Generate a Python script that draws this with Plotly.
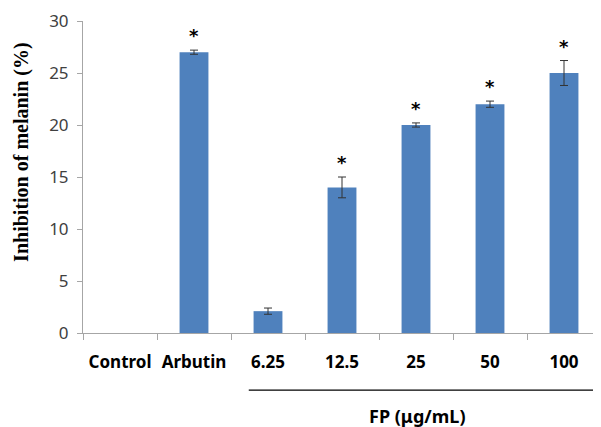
import plotly.graph_objects as go

categories = ["Control", "Arbutin", "6.25", "12.5", "25", "50", "100"]
values = [0, 27.0, 2.1, 14.0, 20.0, 22.0, 25.0]
errors = [0, 0.2, 0.3, 1.0, 0.2, 0.3, 1.2]
significant = [False, True, False, True, True, True, True]
y_ticks = [0, 5, 10, 15, 20, 25, 30]

fig = go.Figure()
fig.add_trace(go.Bar(
    x=categories, y=[v if v > 0 else None for v in values],
    marker=dict(color="#4F81BD", line=dict(width=0)),
    error_y=dict(type="data", array=[e if e > 0 else None for e in errors], visible=True,
                 color="#333333", thickness=1, width=4),
    width=0.39,
))

for i, (v, e, s) in enumerate(zip(values, errors, significant)):
    if s:
        fig.add_annotation(x=i, y=v + e, text="<b>*</b>", showarrow=False,
                           yanchor="bottom", yshift=2,
                           font=dict(family="DejaVu Sans", size=18, color="#000000"))

fig.add_annotation(xref="paper", yref="paper", x=-0.12, y=0.58, xanchor="center", yanchor="middle",
                   text="<b>Inhibition of melanin (%)</b>", textangle=-90, showarrow=False,
                   font=dict(family="Liberation Serif", size=20, color="#000000"))
fig.add_annotation(xref="paper", yref="paper", x=0.645, y=-0.265, xanchor="center", yanchor="middle",
                   text="<b>FP (μg/mL)</b>", showarrow=False,
                   font=dict(family="Noto Sans", size=18, color="#000000"))
fig.add_shape(type="line", xref="paper", yref="paper", x0=0.32, x1=0.99, y0=-0.183, y1=-0.183,
              line=dict(color="#000000", width=1.2))

fig.update_layout(
    width=593, height=419,
    margin=dict(l=75, r=0, t=13, b=94),
    plot_bgcolor="white", paper_bgcolor="white",
    showlegend=False,
    font=dict(family="Noto Sans", color="#404040"),
)
fig.update_xaxes(type="category", categoryorder="array", categoryarray=categories,
                 range=[-0.5, len(categories) - 0.5],
                 showline=True, linecolor="#A6A6A6", linewidth=1,
                 ticks="outside", tickson="boundaries", ticklen=6, tickcolor="#A6A6A6",
                 ticklabelstandoff=14,
                 tickfont=dict(family="Noto Sans", size=17, color="#000000"),
                 tickprefix="<b>", ticksuffix="</b>", showgrid=False, tickangle=0)
fig.update_yaxes(range=[0, 30], tickvals=y_ticks, showline=True, linecolor="#A6A6A6", linewidth=1,
                 ticks="outside", ticklen=5, tickcolor="#A6A6A6", showgrid=False, zeroline=False,
                 ticklabelstandoff=5,
                 tickfont=dict(family="Noto Sans", size=17, color="#404040"))

fig.write_html("out.html")
